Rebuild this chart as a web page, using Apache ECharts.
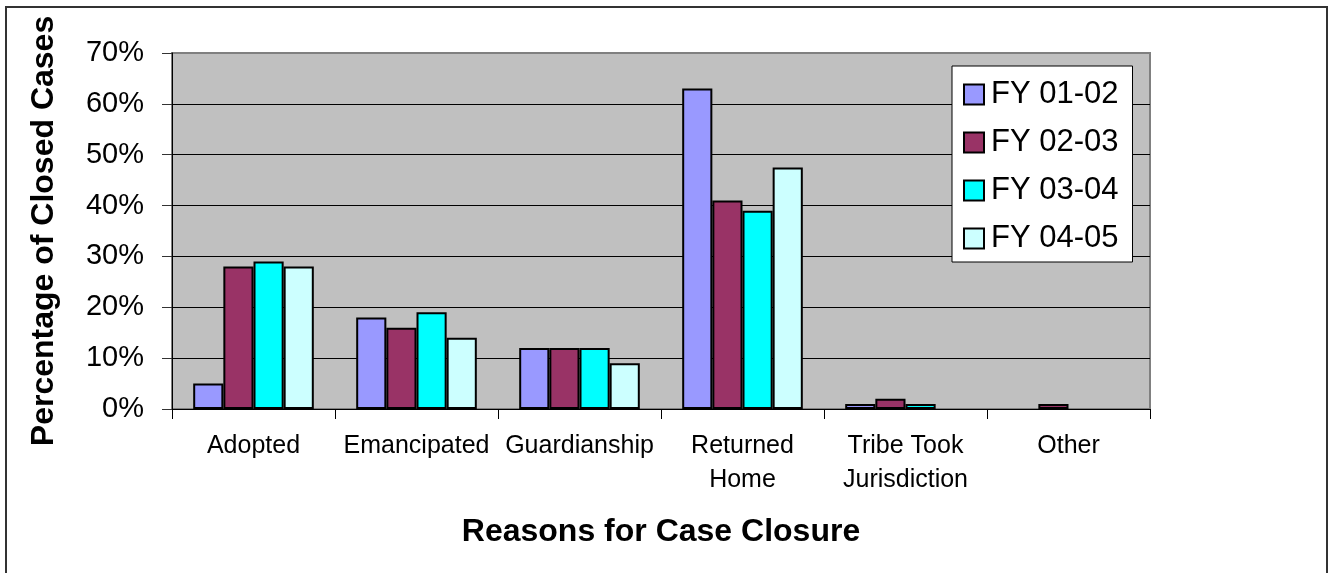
<!DOCTYPE html>
<html>
<head>
<meta charset="utf-8">
<title>Reasons for Case Closure</title>
<script src="https://cdn.jsdelivr.net/npm/echarts@6/dist/echarts.min.js"></script>
<style>
  html, body { margin: 0; padding: 0; background: #ffffff; }
  #chart { width: 1329px; height: 573px; }
</style>
</head>
<body>
<div id="chart"></div>
<script>
// Reasons for case closure, share of closed cases (%) per fiscal year
const categories = ['Adopted', 'Emancipated', 'Guardianship', 'Returned\nHome', 'Tribe Took\nJurisdiction', 'Other'];
const fy0102 = [5, 18, 12, 63, 1, 0];
const fy0203 = [28, 16, 12, 41, 2, 1];
const fy0304 = [29, 19, 12, 39, 1, 0];
const fy0405 = [28, 14, 9, 47.5, 0, 0];
const seriesNames = ['FY 01-02', 'FY 02-03', 'FY 03-04', 'FY 04-05'];
const seriesColors = ['#9999FF', '#993366', '#00FFFF', '#CCFFFF'];
const yTicks = [0, 10, 20, 30, 40, 50, 60, 70];

const font = '"Liberation Sans", Arial, sans-serif';
const seriesData = [fy0102, fy0203, fy0304, fy0405];

const chart = echarts.init(document.getElementById('chart'), null, { renderer: 'canvas' });

chart.setOption({
  animation: false,
  backgroundColor: '#ffffff',
  textStyle: { fontFamily: font },
  graphic: [{
    // frame around the whole chart
    type: 'rect',
    shape: { x: 6, y: 7, width: 1321, height: 600 },
    style: { fill: 'none', stroke: '#333333', lineWidth: 2 },
    silent: true
  }],
  grid: {
    left: 172, right: 179, top: 53, bottom: 164,
    show: true,
    backgroundColor: '#C0C0C0',
    borderColor: '#808080',
    borderWidth: 2
  },
  legend: {
    orient: 'vertical',
    left: 952, top: 66,
    backgroundColor: '#ffffff',
    borderColor: '#000000',
    borderWidth: 1,
    padding: [13, 14, 8, 11],
    itemWidth: 20, itemHeight: 20,
    itemGap: 17,
    icon: 'rect',
    itemStyle: { borderColor: '#000000', borderWidth: 2 },
    textStyle: { fontFamily: font, fontSize: 31, lineHeight: 30, color: '#000000', padding: [0, 0, 0, 2] },
    data: seriesNames
  },
  xAxis: {
    type: 'category',
    data: categories,
    name: 'Reasons for Case Closure',
    nameLocation: 'middle',
    nameGap: 107,
    nameTextStyle: { fontFamily: font, fontSize: 32, fontWeight: 'bold', color: '#000000' },
    axisLine: { lineStyle: { color: '#000000', width: 1 } },
    axisTick: { show: true, length: 10, lineStyle: { color: '#000000' } },
    axisLabel: { fontFamily: font, fontSize: 25, lineHeight: 34, color: '#000000', margin: 20, interval: 0 },
    splitLine: { show: false }
  },
  yAxis: {
    type: 'value',
    min: yTicks[0], max: yTicks[yTicks.length - 1], interval: 10,
    name: 'Percentage of Closed Cases',
    nameLocation: 'middle',
    nameGap: 112,
    nameRotate: 90,
    nameTextStyle: { fontFamily: font, fontSize: 32, fontWeight: 'bold', color: '#000000' },
    axisLine: { show: true, lineStyle: { color: '#000000', width: 1 } },
    axisTick: { show: true, length: 10, lineStyle: { color: '#333333' } },
    axisLabel: { fontFamily: font, fontSize: 29, color: '#000000', margin: 28, formatter: '{value}%' },
    splitLine: { show: true, showMaxLine: false, lineStyle: { color: '#000000', width: 1 } }
  },
  series: seriesNames.map((name, i) => ({
    name: name,
    type: 'bar',
    // zero shares are left empty so no outline is drawn on the baseline
    data: seriesData[i].map(v => (v === 0 ? '-' : v)),
    barGap: '0%',
    barCategoryGap: '26%',
    itemStyle: { color: seriesColors[i], borderColor: '#000000', borderWidth: 2 }
  }))
});
</script>
</body>
</html>
